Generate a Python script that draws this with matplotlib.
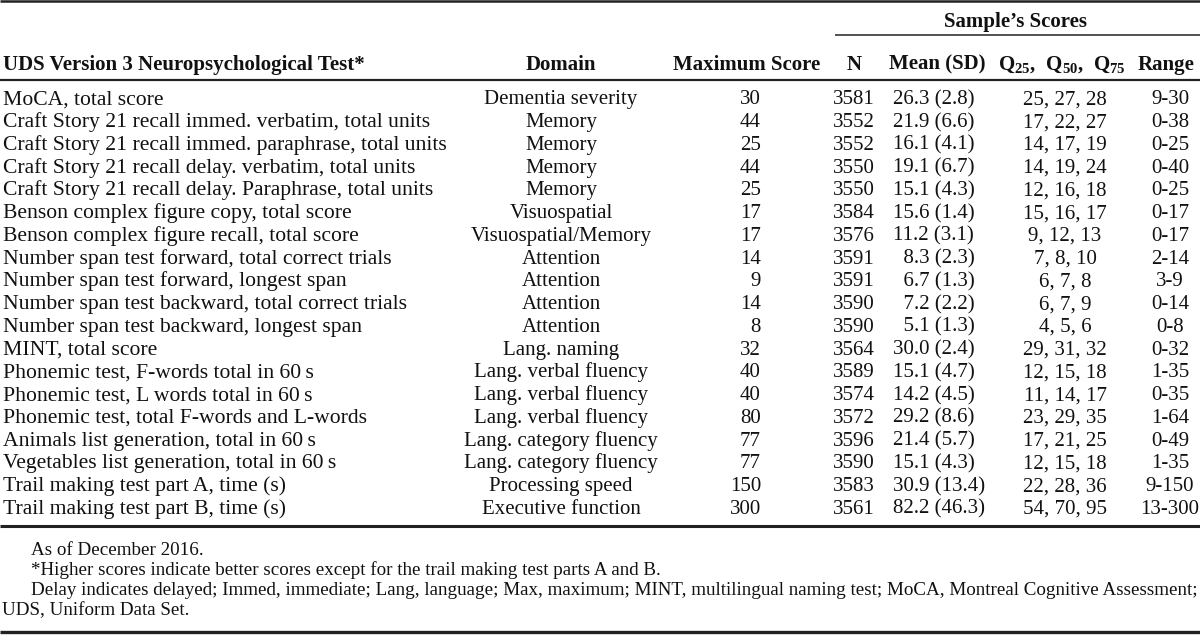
import matplotlib
matplotlib.use("Agg")
import matplotlib.pyplot as plt

plt.rcParams['mathtext.fontset'] = 'custom'
plt.rcParams['mathtext.rm'] = 'Liberation Serif'
plt.rcParams['mathtext.bf'] = 'Liberation Serif:bold'

# ---------------- data ----------------
tests = [
    "MoCA, total score",
    "Craft Story 21 recall immed. verbatim, total units",
    "Craft Story 21 recall immed. paraphrase, total units",
    "Craft Story 21 recall delay. verbatim, total units",
    "Craft Story 21 recall delay. Paraphrase, total units",
    "Benson complex figure copy, total score",
    "Benson complex figure recall, total score",
    "Number span test forward, total correct trials",
    "Number span test forward, longest span",
    "Number span test backward, total correct trials",
    "Number span test backward, longest span",
    "MINT, total score",
    "Phonemic test, F-words total in 60\u2009s",
    "Phonemic test, L words total in 60\u2009s",
    "Phonemic test, total F-words and L-words",
    "Animals list generation, total in 60\u2009s",
    "Vegetables list generation, total in 60\u2009s",
    "Trail making test part A, time (s)",
    "Trail making test part B, time (s)",
]
domains = [
    "Dementia severity", "Memory", "Memory", "Memory", "Memory",
    "Visuospatial", "Visuospatial/Memory", "Attention", "Attention",
    "Attention", "Attention", "Lang. naming", "Lang. verbal fluency",
    "Lang. verbal fluency", "Lang. verbal fluency", "Lang. category fluency",
    "Lang. category fluency", "Processing speed", "Executive function",
]
max_scores = [30, 44, 25, 44, 25, 17, 17, 14, 9, 14, 8, 32, 40, 40, 80, 77, 77, 150, 300]
n_values = [3581, 3552, 3552, 3550, 3550, 3584, 3576, 3591, 3591, 3590, 3590,
            3564, 3589, 3574, 3572, 3596, 3590, 3583, 3561]
means = [26.3, 21.9, 16.1, 19.1, 15.1, 15.6, 11.2, 8.3, 6.7, 7.2, 5.1,
         30.0, 15.1, 14.2, 29.2, 21.4, 15.1, 30.9, 82.2]
sds = [2.8, 6.6, 4.1, 6.7, 4.3, 1.4, 3.1, 2.3, 1.3, 2.2, 1.3,
       2.4, 4.7, 4.5, 8.6, 5.7, 4.3, 13.4, 46.3]
q25 = [25, 17, 14, 14, 12, 15, 9, 7, 6, 6, 4, 29, 12, 11, 23, 17, 12, 22, 54]
q50 = [27, 22, 17, 19, 16, 16, 12, 8, 7, 7, 5, 31, 15, 14, 29, 21, 15, 28, 70]
q75 = [28, 27, 19, 24, 18, 17, 13, 10, 8, 9, 6, 32, 18, 17, 35, 25, 18, 36, 95]
range_min = [9, 0, 0, 0, 0, 0, 0, 2, 3, 0, 0, 0, 1, 0, 1, 0, 1, 9, 13]
range_max = [30, 38, 25, 40, 25, 17, 17, 14, 9, 14, 8, 32, 35, 35, 64, 49, 35, 150, 300]

col_headers = ["UDS Version 3 Neuropsychological Test*", "Domain", "Maximum Score",
               "N", "Mean (SD)", r"$\mathbf{Q_{25},\ Q_{50},\ Q_{75}}$", "Range"]
group_header = "Sample\u2019s Scores"
footnotes = [
    "As of December 2016.",
    "*Higher scores indicate better scores except for the trail making test parts A and B.",
    "Delay indicates delayed; Immed, immediate; Lang, language; Max, maximum; MINT, multilingual naming test; MoCA, Montreal Cognitive Assessment;",
    "UDS, Uniform Data Set.",
]

# ---------------- drawing ----------------
W, H = 1200, 635
fig = plt.figure(figsize=(W / 100, H / 100), dpi=100)
ax = fig.add_axes([0, 0, 1, 1])
ax.set_xlim(0, W)
ax.set_ylim(H, 0)
ax.axis('off')

FONT = 'Liberation Serif'
FS = 15
FS_TEST = 15.6
FS_FOOT = 13.7


def base(yc, fs):
    # baseline position so that the cap height is centred on yc
    return yc + 0.33 * fs * 100 / 72


row0 = 97.5
dy = 22.75
header_y = 63

# rules
ax.hlines(1.2, 0, W, color='#222222', lw=1.8)
ax.hlines(34.5, 835, W, color='#222222', lw=1.1)
ax.hlines(80, 0, W, color='#222222', lw=1.6)
ax.hlines(526, 0, W, color='#222222', lw=2.2)
ax.hlines(631.5, 0, W, color='#222222', lw=2.4)

kw = dict(fontfamily=FONT, fontsize=FS, color='#111111', va='baseline')
bkw = dict(kw, fontweight='bold')

hb = base(header_y, FS)
ax.text(1016, base(20.5, FS), group_header, ha='center', **bkw)
ax.text(3, hb, col_headers[0], ha='left', **bkw)
ax.text(561, hb, col_headers[1], ha='center', **bkw)
ax.text(747, hb, col_headers[2], ha='center', **bkw)
ax.text(854, hb, col_headers[3], ha='center', **bkw)
ax.text(937, hb, col_headers[4], ha='center', **bkw)
ax.text(1062, hb, col_headers[5], ha='center', **kw)
ax.text(1166, hb, col_headers[6], ha='center', **bkw)

for i in range(len(tests)):
    y = base(row0 + i * dy, FS)
    ax.text(3, y, tests[i], ha='left', **dict(kw, fontsize=FS_TEST))
    ax.text(561, y, domains[i], ha='center', **kw)
    ax.text(761, y, f"{max_scores[i]}", ha='right', **kw)
    ax.text(854, y, f"{n_values[i]}", ha='center', **kw)
    pad = "  " if means[i] < 10 else ""
    ax.text(893, y, f"{pad}{means[i]:.1f} ({sds[i]:.1f})", ha='left', **kw)
    ax.text(1065, y, f"{q25[i]}, {q50[i]}, {q75[i]}", ha='center', **kw)
    ax.text(1170, y, f"{range_min[i]}-{range_max[i]}", ha='center', **kw)

fkw = dict(kw, fontsize=FS_FOOT)
foot_y = [549, 569, 588.5, 608.5]
ax.text(31, base(foot_y[0], FS_FOOT), footnotes[0], ha='left', **fkw)
ax.text(31, base(foot_y[1], FS_FOOT), footnotes[1], ha='left', **fkw)
ax.text(31, base(foot_y[2], FS_FOOT), footnotes[2], ha='left', **fkw)
ax.text(2, base(foot_y[3], FS_FOOT), footnotes[3], ha='left', **fkw)

fig.savefig("out.png", dpi=100, facecolor='white')
